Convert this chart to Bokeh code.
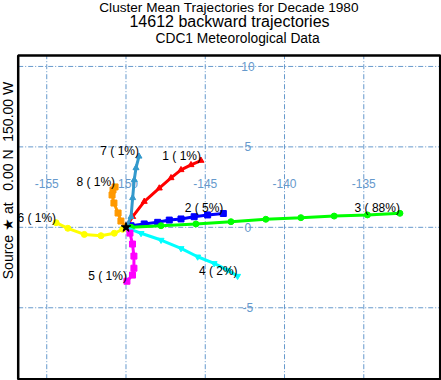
import math
from bokeh.plotting import figure
from bokeh.models import Label, LabelSet, ColumnDataSource, Range1d, BoxAnnotation
from bokeh.embed import file_html
from bokeh.resources import INLINE
from bokeh.core.properties import value

title_lines = ["Cluster Mean Trajectories for Decade 1980",
               "14612 backward trajectories",
               "CDC1 Meteorological Data"]
side_label = "Source \u2605 at\u00a0\u00a0 0.00 N\u00a0 150.00 W"

lon_ticks = [-155, -150, -145, -140, -135]
lat_ticks = [10, 5, 0, -5]
lon_tick_labels = ["-155", "-150", "-145", "-140", "-135"]
lat_tick_labels = ["10", "5", "0", "-5"]

source_lon = [-150.0]
source_lat = [0.0]

cluster_ids = [1, 2, 3, 4, 5, 6, 7, 8]
cluster_pct = [1, 5, 88, 2, 1, 1, 1, 1]

c1_lon = [-150.0, -149.58, -148.85, -147.9, -147.16, -146.53, -145.9, -145.27]
c1_lat = [0.0, 0.66, 1.6, 2.43, 3.07, 3.57, 3.88, 4.15]
c2_lon = [-150.0, -149.68, -148.85, -148.0, -147.27, -146.53, -145.7, -144.85, -143.86]
c2_lat = [0.0, 0.1, 0.21, 0.31, 0.45, 0.52, 0.66, 0.77, 0.86]
c3_lon = [-150.0, -149.68, -147.79, -145.59, -143.38, -141.18, -138.97, -136.87, -134.77, -132.72]
c3_lat = [0.0, 0.0, 0.1, 0.21, 0.35, 0.5, 0.6, 0.7, 0.77, 0.87]
c4_lon = [-150.0, -149.05, -147.79, -146.53, -145.48, -144.44, -143.59, -142.96]
c4_lat = [0.0, -0.37, -0.79, -1.31, -1.83, -2.24, -2.66, -3.03]
c5_lon = [-150.0, -149.75, -149.59, -149.5, -149.5, -149.59, -149.94]
c5_lat = [0.0, -0.36, -1.04, -1.79, -2.54, -2.97, -3.35]
c6_lon = [-150.0, -150.21, -150.74, -151.58, -152.63, -153.67, -154.41]
c6_lat = [0.0, -0.12, -0.37, -0.52, -0.44, -0.06, 0.29]
c7_lon = [-150.0, -149.68, -149.58, -149.48, -149.37, -149.18]
c7_lat = [0.0, 0.66, 1.83, 2.95, 3.69, 4.41]
c8_lon = [-150.0, -150.32, -150.5, -150.76, -150.88, -150.82, -150.69]
c8_lat = [0.0, 0.39, 0.89, 1.51, 2.01, 2.32, 2.51]

clusters_lon = [c1_lon, c2_lon, c3_lon, c4_lon, c5_lon, c6_lon, c7_lon, c8_lon]
clusters_lat = [c1_lat, c2_lat, c3_lat, c4_lat, c5_lat, c6_lat, c7_lat, c8_lat]
colors = ["#ff0000", "#0000ff", "#00ff00", "#00ffff", "#ff00ff", "#ffff00", "#3399cc", "#ff9900"]
markers = ["triangle", "square", "circle", "inverted_triangle", "square", "circle", "triangle", "square"]

# map extent (degrees) and its placement on the 441x380 canvas (pixels)
map_west, map_east, map_south, map_north = -156.8, -130.18, -9.44, 10.68
W, H = 441, 380
pad_l, pad_r, pad_t, pad_b = 17.7, 1.3, 55.0, 1.3
ppx = (W - pad_l - pad_r) / (map_east - map_west)
ppy = (H - pad_t - pad_b) / (map_north - map_south)
x0 = map_west - pad_l / ppx
x1 = map_east + pad_r / ppx
y0 = map_south - pad_b / ppy
y1 = map_north + pad_t / ppy

GRID = "#6699cc"
FONT = "Liberation Sans"

p = figure(width=W, height=H, output_backend="svg", toolbar_location=None,
           x_range=Range1d(x0, x1), y_range=Range1d(y0, y1),
           x_axis_type=None, y_axis_type=None,
           min_border_left=0, min_border_right=0, min_border_top=0, min_border_bottom=0,
           margin=0)
p.outline_line_color = None
p.background_fill_color = "white"
p.border_fill_color = "white"
p.grid.visible = False

# graticule
p.segment(x0=lon_ticks, y0=[map_south] * len(lon_ticks), x1=lon_ticks, y1=[map_north] * len(lon_ticks),
          line_color=GRID, line_width=1, line_dash="5 2 1 2", level="underlay")
p.segment(x0=[map_west] * len(lat_ticks), y0=lat_ticks, x1=[map_east] * len(lat_ticks), y1=lat_ticks,
          line_color=GRID, line_width=1, line_dash="5 2 1 2", level="underlay")

lon_src = ColumnDataSource(dict(x=lon_ticks, y=[2.70] * len(lon_ticks), t=lon_tick_labels))
p.add_layout(LabelSet(x="x", y="y", text="t", source=lon_src, text_align="center",
                      text_baseline="middle", text_font=value(FONT), text_font_size="12px",
                      text_color=GRID, level="underlay"))
lat_src = ColumnDataSource(dict(x=[-142.31] * len(lat_ticks), y=lat_ticks, t=lat_tick_labels))
p.add_layout(LabelSet(x="x", y="y", text="t", source=lat_src, text_align="center",
                      text_baseline="middle", text_font=value(FONT), text_font_size="12px",
                      text_color=GRID, level="underlay"))

for lo, la, c, m in zip(clusters_lon, clusters_lat, colors, markers):
    p.line(lo, la, line_color=c, line_width=3)
    p.scatter(lo[1:], la[1:], marker=m, size=6, color=c)

p.scatter(source_lon, source_lat, marker="star", size=10, color="black")

end_lon = [lo[-1] for lo in clusters_lon]
end_lat = [la[-1] for la in clusters_lat]
texts = [f"{i} ( {q}%)" for i, q in zip(cluster_ids, cluster_pct)]
lab_src = ColumnDataSource(dict(x=end_lon, y=end_lat, t=texts))
p.add_layout(LabelSet(x="x", y="y", text="t", source=lab_src, text_align="right",
                      text_baseline="alphabetic", x_offset=0, y_offset=1,
                      text_font=value(FONT), text_font_size="12px", text_color="black"))

# map border
p.add_layout(BoxAnnotation(left=map_west, right=map_east, bottom=map_south, top=map_north,
                           fill_alpha=0, line_color="black", line_width=2.5, line_alpha=1))

# titles (screen units: from the canvas' bottom-left corner)
title_pos = [(228.5, 7, "13.6px"), (229, 21, "16px"), (237, 38, "13.8px")]
for txt, (cx, cy, fs) in zip(title_lines, title_pos):
    p.add_layout(Label(x=cx, y=H - cy, x_units="screen", y_units="screen", text=txt,
                       text_align="center", text_baseline="middle", text_font=FONT,
                       text_font_size=fs, text_color="black"))
p.add_layout(Label(x=7, y=H - 180, x_units="screen", y_units="screen", text=side_label,
                   angle=math.pi / 2, text_align="center", text_baseline="middle",
                   text_font=FONT, text_font_size="14px", text_color="black"))

open("out.html", "w").write(file_html(p, INLINE))
